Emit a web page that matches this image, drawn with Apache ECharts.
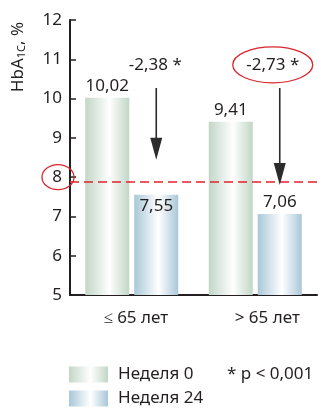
<!DOCTYPE html>
<html><head><meta charset="utf-8">
<script src="https://cdn.jsdelivr.net/npm/echarts@6/dist/echarts.min.js"></script>
<style>html,body{margin:0;padding:0;background:#fff}#c{width:321px;height:408px}</style>
</head><body><div id="c"></div>
<script>
const categories = ['≤ 65 лет', '> 65 лет'];
const seriesNames = ['Неделя 0', 'Неделя 24'];
const week0 = [10.02, 9.41];
const week24 = [7.55, 7.06];
const yMin = 5, yMax = 12, yInterval = 1;
const targetLine = 7.88;
const changeLabels = ['-2,38 *', '-2,73 *'];
const changeLabelValue = [10.86, 10.86];
const arrowFrom = [10.27, 10.27];
const arrowTo = [8.44, 7.8];
const footnote = '* p < 0,001';

const FONT = 'Noto Sans';
const TXT = '#231f20';
function grad(c) {
  return new echarts.graphic.LinearGradient(0, 0, 1, 0, [
    {offset: 0, color: c}, {offset: 0.55, color: '#ffffff'}, {offset: 1, color: c}
  ]);
}
const fmt = p => p.value.toFixed(2).replace('.', ',');
const chart = echarts.init(document.getElementById('c'));
const BW = 44, GAP = 5;
const labelShift = [8, 24];
const legendBase = {
  orient: 'vertical', left: 69, itemWidth: 39, itemHeight: 16,
  icon: 'rect', padding: 0,
  textStyle: {fontSize: 17, color: TXT, fontFamily: FONT, padding: [0, 0, 0, 5]}
};
chart.setOption({
  animation: false,
  textStyle: {fontFamily: FONT},
  grid: {left: 70, right: 4, top: 20, bottom: 113},
  legend: [
    Object.assign({}, legendBase, {top: 366, data: [seriesNames[0]]}),
    Object.assign({}, legendBase, {top: 390, data: [seriesNames[1]]})
  ],
  xAxis: {
    type: 'category',
    data: categories.map((c, i) => ({value: c, textStyle: {padding: [0, 0, 0, labelShift[i]]}})),
    axisLine: {lineStyle: {color: TXT, width: 2}},
    axisTick: {inside: true, length: 7, lineStyle: {color: TXT, width: 1.5}},
    axisLabel: {fontSize: 17, color: TXT, margin: 15, fontFamily: FONT}
  },
  yAxis: {
    type: 'value', min: yMin, max: yMax, interval: yInterval,
    axisLine: {show: true, lineStyle: {color: TXT, width: 2}},
    axisTick: {show: true, inside: true, length: 6, lineStyle: {color: TXT, width: 1.5}},
    axisLabel: {fontSize: 17, color: TXT, margin: 8, fontFamily: FONT},
    splitLine: {show: false}
  },
  series: [
    {
      name: seriesNames[0], type: 'bar', barWidth: BW, barGap: (GAP / BW * 100) + '%',
      data: week0,
      itemStyle: {color: grad('#c2d6c7')},
      label: {show: true, position: 'top', distance: 3, fontSize: 17, color: TXT, fontFamily: FONT, formatter: fmt},
      markLine: {
        silent: true, symbol: 'none', label: {show: false},
        lineStyle: {color: '#e4222b', type: [9, 5], width: 1.5},
        data: [{yAxis: targetLine}]
      }
    },
    {
      name: seriesNames[1], type: 'bar', barWidth: BW,
      data: week24.map((v, i) => i === 0
        ? {value: v, label: {position: 'insideTop', distance: 3}}
        : {value: v}),
      itemStyle: {color: grad('#a9c7d9')},
      label: {show: true, position: 'top', distance: 3, fontSize: 17, color: TXT, fontFamily: FONT, formatter: fmt}
    }
  ]
});

function px(cat, val) { return chart.convertToPixel({gridIndex: 0}, [cat, val]); }
const g = [];
const off = (BW + GAP) / 2;
categories.forEach((c, i) => {
  const cx = px(i, yMin)[0] + off;
  const y0 = px(i, arrowFrom[i])[1];
  const y1 = px(i, arrowTo[i])[1];
  g.push({type: 'line', shape: {x1: cx, y1: y0, x2: cx, y2: y1 - 18}, style: {stroke: '#2b2b2b', lineWidth: 1.6}, z: 10});
  g.push({type: 'polygon', shape: {points: [[cx - 6, y1 - 22], [cx + 6, y1 - 22], [cx, y1]]}, style: {fill: '#2b2b2b'}, z: 10});
  const ly = px(i, changeLabelValue[i])[1];
  const lx = cx + (i === 1 ? -7 : -1);
  g.push({type: 'text', x: lx, y: ly, style: {text: changeLabels[i], fontSize: 17, fill: TXT, fontFamily: FONT, align: 'center', verticalAlign: 'middle'}, z: 10});
  if (i === 1) {
    g.push({type: 'ellipse', shape: {cx: lx, cy: ly, rx: 40, ry: 18}, style: {fill: 'none', stroke: '#d9262c', lineWidth: 1.3}, z: 10});
  }
});
const y8 = px(0, 8)[1];
g.push({type: 'ellipse', shape: {cx: 58, cy: y8, rx: 16, ry: 12.5}, style: {fill: 'none', stroke: '#d9262c', lineWidth: 1.3}, z: 10});
g.push({type: 'text', x: 18, y: 57, rotation: Math.PI / 2,
  style: {text: '{a|HbA}{s|1C}{a|, %}', align: 'center', verticalAlign: 'middle',
    rich: {a: {fontSize: 17, fill: TXT, fontFamily: FONT}, s: {fontSize: 11, fill: TXT, fontFamily: FONT, padding: [8, 0, 0, 0]}}}});
g.push({type: 'text', x: 227, y: 374, style: {text: footnote, fontSize: 17, fill: TXT, fontFamily: FONT, verticalAlign: 'middle'}});
chart.setOption({graphic: g});
</script></body></html>
